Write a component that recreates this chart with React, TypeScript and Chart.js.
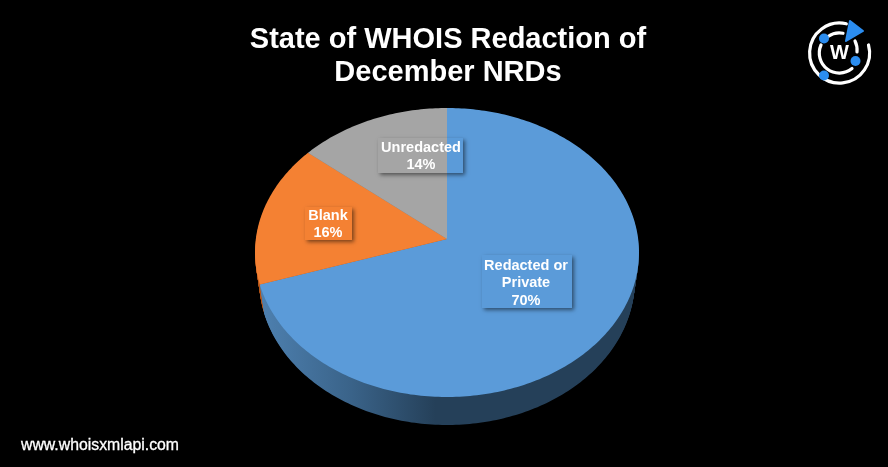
import React, { useEffect, useRef } from "react";
import { Chart, registerables } from "chart.js";

Chart.register(...registerables);

const categories = ["Redacted or Private", "Blank", "Unredacted"];
const labelLines = [["Redacted or", "Private"], ["Blank"], ["Unredacted"]];
const shares = [70, 16, 14];
const topColors = ["#5b9bd9", "#f48133", "#a5a5a5"];
const titleLines = ["State of WHOIS Redaction of", "December NRDs"];
const footer = "www.whoisxmlapi.com";

// Layout only: projected pie geometry and label boxes
const CX = 447, APEX_Y = 239, TOP_Y = 108, BOTTOM_Y = 397, RX = 192, DEPTH = 28;
const boxes = [
  { x: 482, y: 255, w: 90, h: 53, tx: 526, ty: 265.5 },
  { x: 305, y: 207, w: 47, h: 33, tx: 328, ty: 215.5 },
  { x: 378, y: 138, w: 85, h: 35, tx: 421, ty: 147.5 },
];

// Perspective: a projective map that lands the unit disc on the ellipse, with the apex off-centre
const c = -((TOP_Y + BOTTOM_Y - 2 * APEX_Y) / (BOTTOM_Y - TOP_Y));
const a = APEX_Y - TOP_Y + TOP_Y * c;
const d = RX * Math.sqrt(1 - c * c);

function project(u: number, v: number, k: number) {
  const w = 1 + c * v;
  const scale = 1 - (0.022 * k) / DEPTH;
  return { x: CX + (d * scale * u) / w, y: (a * v + APEX_Y) / w + k };
}

function slicePath(ctx: CanvasRenderingContext2D, start: number, end: number, k: number) {
  const steps = Math.max(8, Math.ceil((end - start) * 60));
  ctx.beginPath();
  const apex = project(0, 0, k);
  ctx.moveTo(apex.x, apex.y);
  for (let i = 0; i <= steps; i++) {
    const t = start + ((end - start) * i) / steps;
    const p = project(Math.cos(t), Math.sin(t), k);
    ctx.lineTo(p.x, p.y);
  }
  ctx.closePath();
}

const perspectivePie = {
  id: "perspectivePie",
  beforeDatasetsDraw(chart: any) {
    const ctx: CanvasRenderingContext2D = chart.ctx;
    const arcs = chart.getDatasetMeta(0).data;
    const blueSide = ctx.createLinearGradient(CX - RX, 0, CX + RX, 0);
    blueSide.addColorStop(0, "#4f82b2");
    blueSide.addColorStop(0.25, "#3a6389");
    blueSide.addColorStop(0.47, "#254059");
    blueSide.addColorStop(1, "#254059");
    const sides: (string | CanvasGradient)[] = ["", "#b3571c", "#777777"];
    ctx.save();
    for (const i of [2, 1, 0]) {
      ctx.fillStyle = i === 0 ? blueSide : sides[i];
      for (let k = DEPTH; k >= 1; k--) {
        slicePath(ctx, arcs[i].startAngle, arcs[i].endAngle, k);
        ctx.fill();
      }
    }
    arcs.forEach((arc: any, i: number) => {
      ctx.fillStyle = topColors[i];
      slicePath(ctx, arc.startAngle, arc.endAngle, 0);
      ctx.fill();
    });
    arcs.forEach((_: any, i: number) => {
      const b = boxes[i];
      ctx.save();
      ctx.beginPath();
      ctx.rect(0, 0, chart.width, chart.height);
      ctx.rect(b.x, b.y, b.w, b.h);
      ctx.clip("evenodd");
      ctx.shadowColor = "rgba(0,0,0,0.5)";
      ctx.shadowBlur = 4;
      ctx.shadowOffsetX = 2;
      ctx.shadowOffsetY = 2;
      ctx.fillStyle = "#000";
      ctx.fillRect(b.x, b.y, b.w, b.h);
      ctx.restore();
      const lines = [...labelLines[i], `${shares[i]}%`];
      ctx.fillStyle = "#ffffff";
      ctx.font = "bold 14.5px 'Liberation Sans', Arial, sans-serif";
      ctx.textAlign = "center";
      ctx.textBaseline = "middle";
      lines.forEach((l, j) => ctx.fillText(l, b.tx, b.ty + j * 17.5));
    });
    ctx.textAlign = "left";
    ctx.textBaseline = "alphabetic";
    ctx.font = "15.8px 'Liberation Sans', Arial, sans-serif";
    ctx.strokeStyle = "#ffffff";
    ctx.lineWidth = 0.3;
    ctx.fillText(footer, 21, 450);
    ctx.strokeText(footer, 21, 450);
    ctx.restore();
    return false;
  },
};

export default function App() {
  const ref = useRef<HTMLCanvasElement>(null);
  useEffect(() => {
    const chart = new Chart(ref.current as HTMLCanvasElement, {
      type: "pie",
      data: {
        labels: categories,
        datasets: [{ data: shares, backgroundColor: topColors, borderWidth: 0 }],
      },
      options: {
        animation: false,
        responsive: false,
        layout: { padding: { left: 8, top: 23 } },
        plugins: {
          legend: { display: false },
          tooltip: { enabled: false },
          title: {
            display: true,
            text: titleLines,
            color: "#ffffff",
            fullSize: false,
            font: { family: "'Liberation Sans', Arial, sans-serif", size: 29, weight: "bold", lineHeight: 1.15 },
            padding: 0,
          },
        },
      },
      plugins: [perspectivePie],
    } as any);
    return () => chart.destroy();
  }, []);
  return (
    <div style={{ position: "fixed", inset: 0, background: "#000", overflow: "hidden" }}>
      <canvas ref={ref} width={888} height={467} style={{ display: "block", position: "absolute", left: 0, top: 0 }} />
      <svg width={98} height={100} viewBox="0 0 98 100" style={{ position: "absolute", left: 790, top: 0 }} aria-label="WhoisXML API logo">
        <g fill="none" stroke="#fff" strokeWidth={3.2} strokeLinecap="round">
          <path d="M 56.3 23.8 A 30 30 0 1 0 78.5 45" />
          <path d="M 38 36.5 A 20 20 0 0 1 53 33.3" />
          <path d="M 31 45 A 20 20 0 0 0 62 68.5" />
          <path d="M 67 52 A 20 20 0 0 0 65 41" />
        </g>
        <path d="M 60 21 L 73 31 L 56 41 Z" fill="#2b8df0" stroke="#2b8df0" strokeWidth={2} strokeLinejoin="round" />
        <circle cx={34} cy={38.5} r={5} fill="#2b8df0" />
        <circle cx={65.5} cy={61} r={5} fill="#2b8df0" />
        <circle cx={34} cy={75.5} r={5} fill="#2b8df0" />
        <text x={49.5} y={59} textAnchor="middle" fill="#fff" fontFamily="'Liberation Sans', Arial, sans-serif" fontWeight={700} fontSize={20}>W</text>
      </svg>
    </div>
  );
}
